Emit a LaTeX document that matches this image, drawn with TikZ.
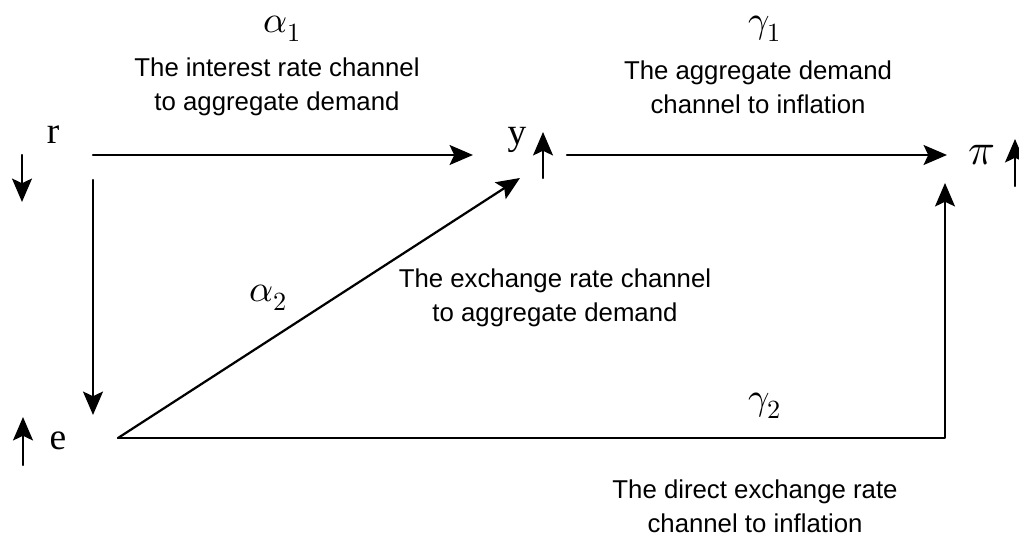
\documentclass[tikz,border=0pt]{standalone}
\usepackage{unicode-math}
\setmainfont{Liberation Serif}
\setmathfont{Latin Modern Math}
\newfontfamily\chanfont{Liberation Sans}
\usetikzlibrary{arrows.meta}

\tikzset{
  var/.style={font=\fontsize{32}{36}\selectfont, inner sep=0pt},
  coef/.style={font=\fontsize{32}{36}\selectfont, inner sep=0pt},
  chan/.style={font=\chanfont\fontsize{22}{29}\selectfont, align=center, inner sep=0pt},
  link/.style={->, line width=1.9pt},
}

\begin{document}
\begin{tikzpicture}[line cap=round,line join=round,>={Stealth[length=20pt,width=17pt,inset=4pt]},x=0.03cm,y=-0.03cm]
\useasboundingbox (0,0) rectangle (1019,540);
% variables
\node[var] (r) at (53,135) {r};
\node[var] (y) at (517,140) {y};
\node[var,font=\fontsize{38}{40}\selectfont] (pi) at (982,155) {$\pi$};
\node[var] (e) at (58,441) {e};
% coefficients and channel texts
\node[coef] (a1) at (282,29) {$\alpha_1$};
\node[chan] (c1) at (277,87) {The interest rate channel\\to aggregate demand};
\node[coef] (g1) at (765,29) {$\gamma_1$};
\node[chan] (c2) at (758,87) {The aggregate demand\\channel to inflation};
\node[coef] (a2) at (268,298) {$\alpha_2$};
\node[chan] (c3) at (555,298) {The exchange rate channel\\to aggregate demand};
\node[coef] (g2) at (765,406) {$\gamma_2$};
\node[chan] (c4) at (755,506) {The direct exchange rate\\channel to inflation};
% arrow ends
\coordinate (rout) at (93,155);
\coordinate (rdown) at (93,180);
\coordinate (yin) at (473,155);
\coordinate (yout) at (567,155);
\coordinate (ydiag) at (520,178);
\coordinate (piin) at (947,155);
\coordinate (pibelow) at (945,183);
\coordinate (ein) at (93,415);
\coordinate (eout) at (118,438);
\coordinate (corner) at (945,438);
% channels
\draw[link] (rout) -- (yin);
\draw[link] (yout) -- (piin);
\draw[link] (rdown) -- (ein);
\draw[link] (eout) -- (ydiag);
\draw[link] (eout) -- (corner) -- (pibelow);
% directions of change
\coordinate (rs1) at (22,155);
\coordinate (rs2) at (22,202);
\coordinate (ys1) at (543,178);
\coordinate (ys2) at (543,132);
\coordinate (ps1) at (1015,186);
\coordinate (ps2) at (1015,139);
\coordinate (es1) at (23,465);
\coordinate (es2) at (23,417);
\draw[link] (rs1) -- (rs2);
\draw[link] (ys1) -- (ys2);
\draw[link] (ps1) -- (ps2);
\draw[link] (es1) -- (es2);
\end{tikzpicture}
\end{document}
